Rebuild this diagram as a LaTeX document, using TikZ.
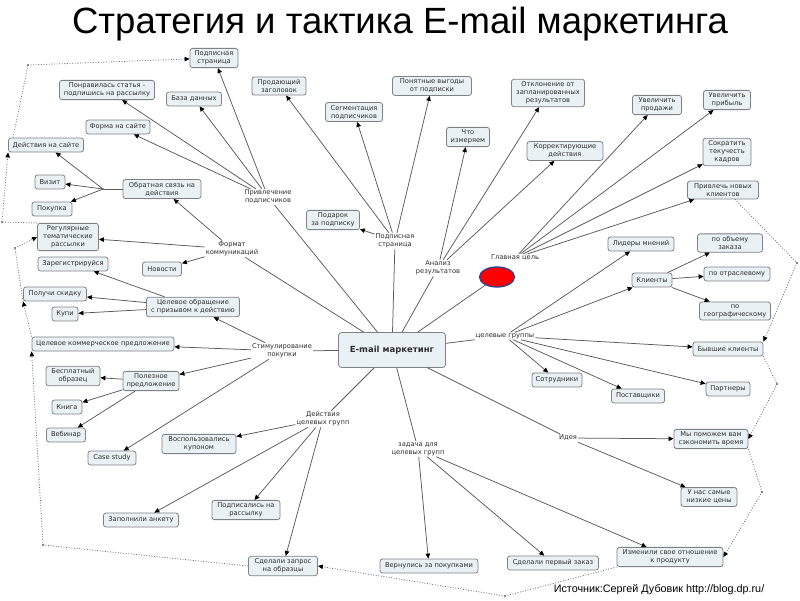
\documentclass[tikz,border=0pt]{standalone}
\usepackage{fontspec}
\setmainfont{DejaVu Sans}
\newfontfamily\titlefont{Liberation Sans}
\usetikzlibrary{arrows.meta,shapes.geometric}
\definecolor{boxfill}{HTML}{EAF1F5}
\definecolor{boxline}{HTML}{7E8285}
\definecolor{txt}{HTML}{2E2E2E}
\definecolor{lncol}{HTML}{5A5A5A}
\definecolor{dotcol}{HTML}{707070}
\definecolor{ellcol}{HTML}{2E3F8F}
\begin{document}
\begin{tikzpicture}[x=1pt,y=-1pt,
  box/.style={draw=boxline, fill=boxfill, rounded corners=2.5pt, line width=0.8pt, align=center, inner xsep=2pt, inner ysep=2.5pt, minimum height=14pt, font=\fontsize{6.7}{8}\selectfont, text=txt},
  lbl/.style={align=center, inner sep=1pt, font=\fontsize{6.7}{8}\selectfont, text=txt},
  ln/.style={draw=lncol, line width=0.75pt},
  arr/.style={ln, -{Triangle[length=5pt,width=4.5pt,color=black]}},
  dotl/.style={draw=dotcol, line width=0.8pt, dash pattern=on 0.9pt off 1.7pt},
  darr/.style={dotl, -{Triangle[length=5pt,width=4.5pt,color=black]}},
  jdot/.style={circle, fill=dotcol, inner sep=0pt, minimum size=2.4pt}
]
\fill[white] (0,0) rectangle (800,600);
\useasboundingbox (0,0) rectangle (800,600);

% title and source
\node[font=\titlefont\fontsize{36.5}{40}\selectfont, anchor=base, text=black] (title) at (400,33) {Стратегия и тактика E-mail маркетинга};
\node[font=\titlefont\fontsize{10.8}{12}\selectfont, anchor=base, text=black] (src) at (659,592) {Источник:Сергей Дубовик http://blog.dp.ru/};

% center
\node[box, minimum width=107pt, minimum height=35pt, rounded corners=3pt, font=\bfseries\fontsize{8.5}{10}\selectfont] (center) at (392,350) {E-mail маркетинг};
\node[ellipse, draw=ellcol, fill=red, line width=1.3pt, minimum width=35pt, minimum height=20pt, inner sep=0pt] (goal) at (497,277) {};

% hub labels
\node[lbl] (privlech) at (268,197) {Привлечение\\подписчиков};
\node[lbl] (format) at (232,249) {Формат\\коммуникаций};
\node[lbl] (stim) at (282,351) {Стимулирование\\покупки};
\node[lbl] (deist) at (323,419) {Действия\\целевых групп};
\node[lbl] (zadacha) at (418,449) {задача для\\целевых групп};
\node[lbl] (ideya) at (568,438) {Идея};
\node[lbl] (celgr) at (505,336) {целевые группы};
\node[lbl] (glcel) at (515,258) {Главная цель};
\node[lbl] (analiz) at (438,268) {Анализ\\результатов};
\node[lbl] (podplbl) at (395,241) {Подписная\\страница};

% boxes
\node[box, minimum width=48pt] (podpstr) at (214,58) {Подписная\\страница};
\node[box, minimum width=95pt] (ponrav) at (107,90) {Понравилась статья -\\подпишись на рассылку};
\node[box, minimum width=55pt] (baza) at (194,99) {База данных};
\node[box, minimum width=64pt] (forma) at (118,127) {Форма на сайте};
\node[box, minimum width=75pt] (deistv) at (46,145) {Действия на сайте};
\node[box, minimum width=30pt] (vizit) at (50,182) {Визит};
\node[box, minimum width=40pt] (pokupka) at (52,209) {Покупка};
\node[box, minimum width=78pt] (obrat) at (162,189) {Обратная связь на\\действия};
\node[box, minimum width=61pt] (regul) at (68,237) {Регулярные\\тематические\\рассылки};
\node[box, minimum width=39pt] (novosti) at (162,269) {Новости};
\node[box, minimum width=70pt] (zareg) at (73,264) {Зарегистрируйся};
\node[box, minimum width=63pt] (skidka) at (55,294) {Получи скидку};
\node[box, minimum width=26pt] (kupi) at (65,314) {Купи};
\node[box, minimum width=93pt] (celobr) at (193,307) {Целевое обращение\\с призывом к действию};
\node[box, minimum width=142pt] (ckp) at (103,344) {Целевое коммерческое предложение};
\node[box, minimum width=54pt] (besp) at (73,376) {Бесплатный\\образец};
\node[box, minimum width=56pt] (polez) at (151,381) {Полезное\\предложение};
\node[box, minimum width=30pt] (kniga) at (67,407) {Книга};
\node[box, minimum width=39pt] (vebinar) at (66,435) {Вебинар};
\node[box, minimum width=48pt] (casest) at (112,458) {Case study};
\node[box, minimum width=74pt] (kupon) at (199,444) {Воспользовались\\купоном};
\node[box, minimum width=75pt] (anketa) at (141,520) {Заполнили анкету};
\node[box, minimum width=68pt] (podpis) at (246,510) {Подписались на\\рассылку};
\node[box, minimum width=69pt] (zapros) at (283,566) {Сделали запрос\\на образцы};
\node[box, minimum width=98pt] (vernul) at (429,566) {Вернулись за покупками};
\node[box, minimum width=91pt] (perv) at (553,563) {Сделали первый заказ};
\node[box, minimum width=106pt] (izmen) at (670,557) {Изменили свое отношение\\к продукту};
\node[box, minimum width=74pt] (pomozhem) at (711,439) {Мы поможем вам\\сэкономить время};
\node[box, minimum width=56pt] (nizk) at (709,497) {У нас самые\\низкие цены};
\node[box, minimum width=53pt] (podarok) at (333,220) {Подарок\\за подписку};
\node[box, minimum width=54pt] (prodzag) at (279,86) {Продающий\\заголовок};
\node[box, minimum width=57pt] (segm) at (354,112) {Сегментация\\подписчиков};
\node[box, minimum width=79pt] (vygody) at (432,86) {Понятные выгоды\\от подписки};
\node[box, minimum width=43pt] (chto) at (468,137) {Что\\измеряем};
\node[box, minimum width=73pt] (otkl) at (548,93) {Отклонение от\\запланированных\\результатов};
\node[box, minimum width=76pt] (korr) at (565,151) {Корректирующие\\действия};
\node[box, minimum width=49pt] (uvprod) at (657,105) {Увеличить\\продажи};
\node[box, minimum width=47pt] (uvprib) at (727,100) {Увеличить\\прибыль};
\node[box, minimum width=48pt] (sokr) at (727,152) {Сократить\\текучесть\\кадров};
\node[box, minimum width=71pt] (privl) at (723,190) {Привлечь новых\\клиентов};
\node[box, minimum width=66pt] (lider) at (641,244) {Лидеры мнений};
\node[box, minimum width=65pt] (obem) at (730,243) {по объему\\заказа};
\node[box, minimum width=40pt] (klient) at (652,280) {Клиенты};
\node[box, minimum width=66pt] (otrasl) at (737,274) {по отраслевому};
\node[box, minimum width=71pt] (geo) at (735,311) {по\\географическому};
\node[box, minimum width=70pt] (byvsh) at (728,349) {Бывшие клиенты};
\node[box, minimum width=50pt] (sotr) at (557,380) {Сотрудники};
\node[box, minimum width=53pt] (postav) at (638,396) {Поставщики};
\node[box, minimum width=44pt] (partn) at (728,389) {Партнеры};

% center to hubs
\foreach \h in {privlech,format,stim,deist,zadacha,ideya,celgr,goal,analiz,podplbl}
  \draw[ln] (center) -- (\h);

% hub connectors
\foreach \t in {podpstr,ponrav,baza,forma} \draw[arr] (privlech) -- (\t);
\foreach \t in {regul,novosti,obrat} \draw[arr] (format) -- (\t);
\coordinate (j1) at (103,189);
\draw[ln] (obrat) -- (j1);
\foreach \t in {deistv,vizit,pokupka} \draw[arr] (j1) -- (\t);
\node[jdot] at (j1) {};
\foreach \t in {celobr,ckp,polez,casest} \draw[arr] (stim) -- (\t);
\foreach \t in {zareg,skidka,kupi} \draw[arr] (celobr) -- (\t);
\foreach \t in {besp,kniga,vebinar} \draw[arr] (polez) -- (\t);
\foreach \t in {kupon,anketa,podpis,zapros} \draw[arr] (deist) -- (\t);
\foreach \t in {vernul,perv,izmen} \draw[arr] (zadacha) -- (\t);
\foreach \t in {pomozhem,nizk} \draw[arr] (ideya) -- (\t);
\foreach \t in {lider,klient,byvsh,partn,postav,sotr} \draw[arr] (celgr) -- (\t);
\foreach \t in {obem,otrasl,geo} \draw[arr] (klient) -- (\t);
\foreach \t in {uvprod,uvprib,sokr,privl} \draw[arr] (glcel) -- (\t);
\foreach \t in {chto,otkl,korr} \draw[arr] (analiz) -- (\t);
\foreach \t in {prodzag,segm,vygody,podarok} \draw[arr] (podplbl) -- (\t);

% dotted cross links
\coordinate (dA) at (28,65);
\coordinate (dB) at (2,222);
\coordinate (dC) at (15,248);
\coordinate (dD) at (43,545);
\coordinate (dE) at (797,263);
\coordinate (dF) at (777,384);
\coordinate (dG) at (762,492);
\coordinate (dH) at (505,596);
\draw[dotl] ([xshift=5pt]deistv.north west) -- (dA);
\draw[darr] (dA) -- (podpstr);
\draw[dotl] (regul.north west) -- (dB);
\draw[darr] (dB) -- (deistv.south west);
\draw[dotl] (skidka.south west) -- (dC);
\draw[darr] (dC) -- (regul.west);
\draw[darr] (ckp.north west) -- (skidka.south west);
\draw[dotl] (zapros.west) -- (dD);
\draw[darr] (dD) -- (ckp.south west);
\draw[dotl] ([xshift=12pt]privl.south) -- (dE);
\draw[darr] (dE) -- (byvsh.north east);
\draw[dotl] (byvsh.south east) -- (dF);
\draw[darr] (dF) -- (pomozhem.east);
\draw[dotl] (pomozhem.south east) -- (dG);
\draw[darr] (dG) -- (izmen.east);
\draw[dotl] (izmen.south west) -- (dH);
\draw[darr] (dH) -- (zapros.east);
\foreach \d in {dA,dB,dC,dD,dE,dF,dG,dH} \node[jdot] at (\d) {};
\end{tikzpicture}
\end{document}
